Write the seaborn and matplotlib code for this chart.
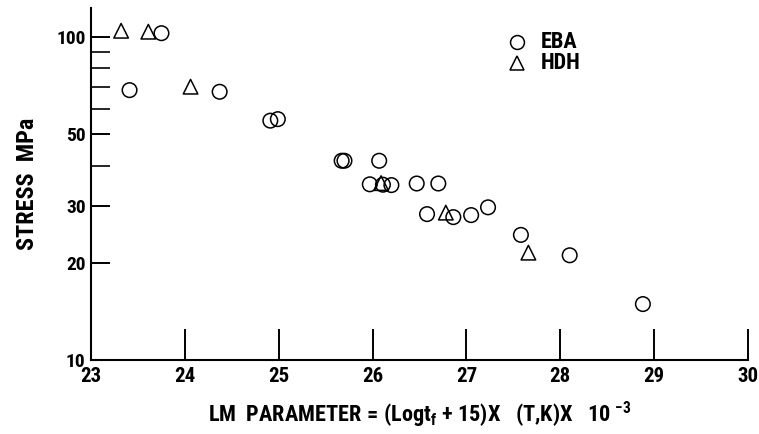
import numpy as np
import pandas as pd
import matplotlib
matplotlib.use("Agg")
import matplotlib.pyplot as plt
import seaborn as sns
from matplotlib import font_manager as fm
from matplotlib.ticker import FixedLocator, NullFormatter, FixedFormatter

eba_x = [23.75, 23.41, 24.37, 24.91, 24.99, 25.67, 25.70, 26.07, 25.97, 26.11, 26.20,
         26.47, 26.70, 26.58, 26.86, 27.05, 27.23, 27.58, 28.10, 28.88]
eba_y = [102.8, 68.5, 67.7, 55.1, 55.7, 41.4, 41.4, 41.4, 35.0, 34.9, 34.8,
         35.2, 35.2, 28.3, 27.7, 28.1, 29.7, 24.4, 21.1, 14.9]
hdh_x = [23.32, 23.61, 24.06, 26.09, 26.78, 27.66]
hdh_y = [104.6, 103.9, 70.2, 35.3, 28.6, 21.5]

x_ticks = [23, 24, 25, 26, 27, 28, 29, 30]
y_major = [10, 20, 30, 50, 100]
y_minor = [40, 60, 70, 80, 90]

names = {f.name for f in fm.fontManager.ttflist}
fam = "Roboto Condensed" if "Roboto Condensed" in names else "DejaVu Sans"

sns.set_theme(style="ticks")
plt.rcParams['font.family'] = [fam, 'DejaVu Sans']
plt.rcParams['mathtext.fontset'] = 'custom'
plt.rcParams['mathtext.rm'] = fam + ':bold'
plt.rcParams['mathtext.bf'] = fam + ':bold'
plt.rcParams['mathtext.it'] = fam + ':bold'
plt.rcParams['mathtext.default'] = 'bf'
plt.rcParams['text.color'] = 'black'
plt.rcParams['axes.labelcolor'] = 'black'

df = pd.DataFrame({
    "x": eba_x + hdh_x,
    "y": eba_y + hdh_y,
    "series": ["EBA"] * len(eba_x) + ["HDH"] * len(hdh_x),
})

fig = plt.figure(figsize=(7.59, 4.34), dpi=100)
ax = fig.add_axes([0.12, 0.1705, 0.8655, 0.811])

sns.scatterplot(data=df, x="x", y="y", style="series",
                markers={"EBA": "o", "HDH": "^"}, s=110,
                facecolors="none", edgecolor="black", linewidth=1.1,
                color="black", legend=False, ax=ax)
for coll in ax.collections:
    coll.set_facecolor("none")
    coll.set_edgecolor("black")

ax.set_yscale("log")
ax.set_xlim(23, 30)
ax.set_ylim(10, 123)
ax.set_xticks(x_ticks)
ax.set_xticklabels([str(t) for t in x_ticks])
ax.yaxis.set_major_locator(FixedLocator(y_major))
ax.yaxis.set_major_formatter(FixedFormatter([str(t) for t in y_major]))
ax.yaxis.set_minor_locator(FixedLocator(y_minor))
ax.yaxis.set_minor_formatter(NullFormatter())

for s in ["top", "right"]:
    ax.spines[s].set_visible(False)
for s in ["left", "bottom"]:
    ax.spines[s].set_linewidth(1.5)
    ax.spines[s].set_color("black")

ax.tick_params(axis="x", direction="in", length=22, width=1.4, pad=5,
               labelsize=15, colors="black")
ax.tick_params(axis="y", which="major", direction="in", length=14, width=1.4,
               pad=4, labelsize=14, colors="black")
ax.tick_params(axis="y", which="minor", direction="in", length=14, width=1.4)
for lab in ax.get_xticklabels() + ax.get_yticklabels():
    lab.set_fontweight("bold")

ax.set_xlabel(r"LM  PARAMETER$\,=\,$(Logt$_{\mathbf{f}}$ + 15)X   (T,K)X   10 $^{-3}$",
              fontsize=16, fontweight="bold", labelpad=10)
ax.set_ylabel("STRESS  MPa", fontsize=17.5, fontweight="bold", labelpad=12)

# legend
ax.plot([0.648], [0.903], transform=ax.transAxes, marker="o", ms=10,
        mfc="none", mec="black", mew=1.1, ls="none")
ax.plot([0.648], [0.844], transform=ax.transAxes, marker="^", ms=10,
        mfc="none", mec="black", mew=1.1, ls="none")
ax.text(0.684, 0.903, "EBA", transform=ax.transAxes, fontsize=16,
        fontweight="bold", va="center", ha="left")
ax.text(0.684, 0.844, "HDH", transform=ax.transAxes, fontsize=16,
        fontweight="bold", va="center", ha="left")

fig.savefig("out.png", dpi=100)
